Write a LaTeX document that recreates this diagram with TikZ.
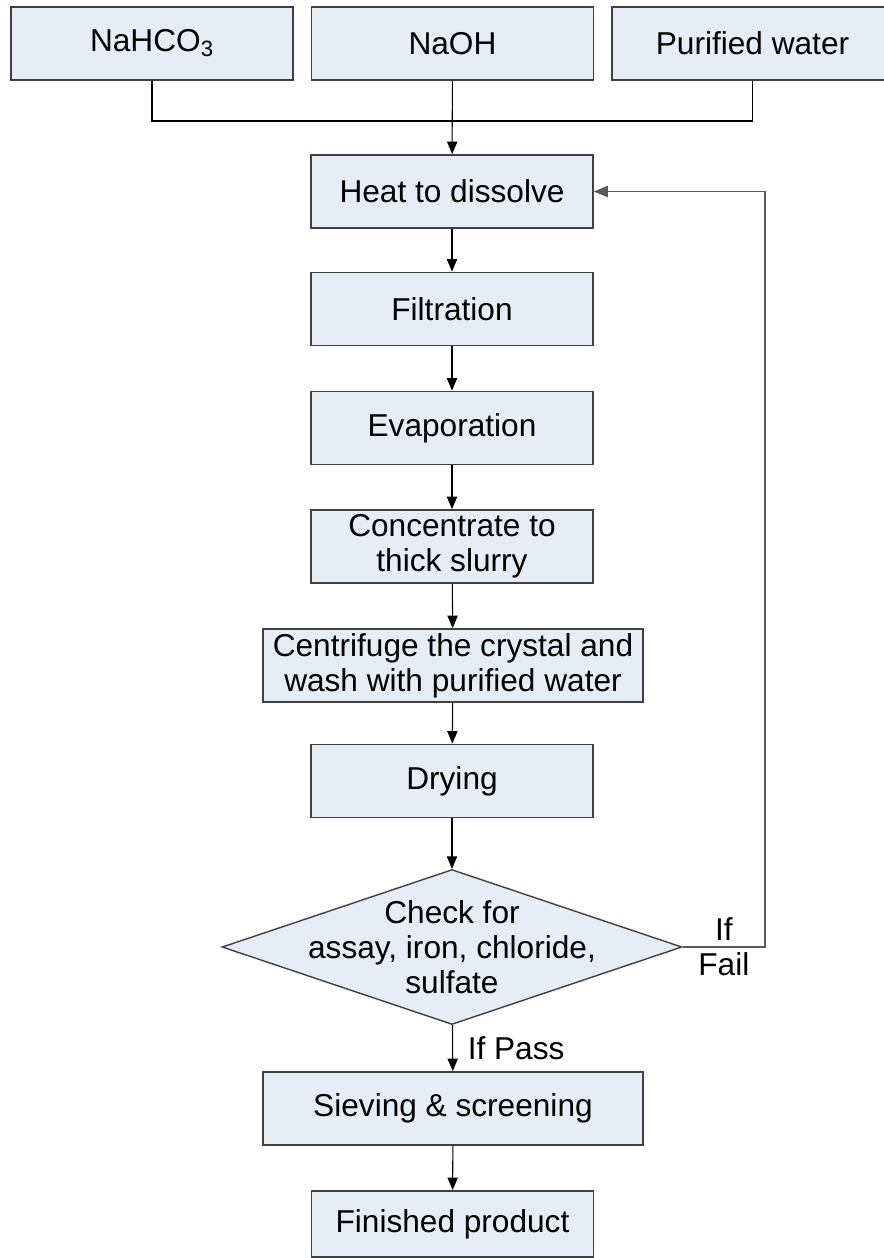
\documentclass[tikz,border=0pt]{standalone}
\usepackage{fontspec}
\setmainfont{Liberation Sans}
\usetikzlibrary{shapes.geometric}
\usetikzlibrary{arrows}
\definecolor{boxfill}{RGB}{230,237,247}
\definecolor{boxline}{RGB}{64,64,64}

\begin{document}
\begin{tikzpicture}[x=0.02cm,y=-0.02cm,->,>=triangle 45,line width=0.6pt,
    font=\fontsize{18}{20}\selectfont,
    box node/.style={rectangle,draw=boxline,line width=1.1pt,fill=boxfill,inner sep=0pt,minimum width=5.64cm,minimum height=1.46cm,align=center},
    wide node/.style={box node,minimum width=7.6cm},
    test node/.style={diamond,draw=boxline,line width=0.8pt,fill=boxfill,inner sep=0pt,minimum width=9.2cm,minimum height=3.1cm}]
  \useasboundingbox (0,0) rectangle (884,1258);
  % raw materials
  \node[box node] (hco) at (152,43.5) {NaHCO\textsubscript{3}};
  \node[box node] (naoh) at (452.5,43.5) {NaOH};
  \node[box node] (water) at (752.5,43.5) {Purified water};
  % process steps
  \node[box node] (heat) at (452,191.5) {Heat to dissolve};
  \node[box node] (filt) at (452,309) {Filtration};
  \node[box node] (evap) at (452,428) {Evaporation};
  \node[box node] (conc) at (452,546.5) {Concentrate to\\thick slurry};
  \node[wide node] (cent) at (453,665.5) {Centrifuge the crystal and\\wash with purified water};
  \node[box node] (dry) at (452,781) {Drying};
  \node[test node] (chk) at (452,947) {};
  \node[align=center] (chktext) at (452,947) {Check for\\assay, iron, chloride,\\sulfate};
  \node[wide node] (sieve) at (453,1108.5) {Sieving \& screening};
  \node[box node,minimum height=1.32cm] (fin) at (452.5,1224) {Finished product};
  \coordinate (join) at (452.5,121);
  \coordinate (fb) at (765,947);
  % connectors
  \draw[-] (hco.south) -- (hco.south |- join) -- (water.south |- join) -- (water.south);
  \draw (naoh) -- (heat);
  \draw (heat) -- (filt);
  \draw (filt) -- (evap);
  \draw (evap) -- (conc);
  \draw (conc) -- (cent);
  \draw (cent) -- (dry);
  \draw (dry) -- (chk);
  \draw (chk) -- node[right,xshift=5pt]{If Pass} (sieve);
  \draw (sieve) -- (fin);
  \draw[black!65,line width=0.8pt] (chk.east) -- node[black,align=center]{If\\Fail} (fb) |- (heat.east);
\end{tikzpicture}
\end{document}
